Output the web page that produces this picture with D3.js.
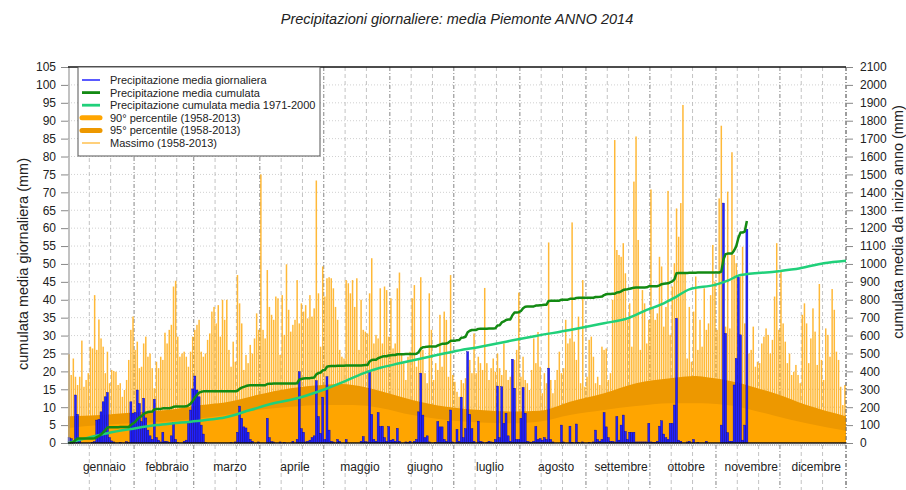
<!DOCTYPE html>
<html>
<head>
<meta charset="utf-8">
<script src="https://cdn.jsdelivr.net/npm/d3@7"></script>
<style>
body { margin: 0; background: #fff; }
text { font-family: "Liberation Sans", Arial, Helvetica, sans-serif; fill: #222; }
</style>
</head>
<body>
<script>
//month labels and lengths
var monthNames = ["gennaio", "febbraio", "marzo", "aprile", "maggio", "giugno",
    "luglio", "agosto", "settembre", "ottobre", "novembre", "dicembre"];
var monthLength = [31, 28, 31, 30, 31, 30, 31, 31, 30, 31, 30, 31];

//daily maximum 1958-2013 (mm), one row per month
var dailyMax = [
    24.8, 19, 23.6, 18.5, 16.2, 18.5, 28.6, 15.7, 17.6, 19.5, 26.9, 26.4, 41.3, 26, 34.5, 29.2, 26.9, 19.5, 25.5, 16.7, 20.4, 20.1, 19.9, 16.2, 16.7, 12.9, 14.8, 17.6, 23.2, 31.6, 35.3,
    26, 28.3, 20.9, 21.3, 27.8, 29.7, 24.1, 25, 20.9, 15.3, 22.7, 20.9, 24.1, 23.2, 30.8, 27.8, 31.6, 33, 43.7, 45.3, 29.7, 24.1, 25, 25.5, 24.1, 21.3, 25.5, 29.7,
    31.6, 33, 34.4, 25.5, 24.1, 25, 28.8, 30.6, 36.7, 38, 33.4, 38.5, 29.7, 40, 34.4, 40, 26, 21.3, 28.3, 22.7, 46.9, 39, 33.4, 20.4, 24.6, 22.3, 27.4, 25, 29.2, 36.2, 31.6,
    75, 31.6, 29.2, 48.3, 38, 35.8, 34.4, 40.9, 40.4, 24.6, 41.3, 30.2, 49.9, 37.2, 31.1, 33, 34.4, 45.5, 33.4, 39, 36.7, 38.5, 34.8, 41.3, 35.3, 37.6, 73.3, 41.8, 26.9, 49.3,
    40.9, 46, 46.3, 46, 43.2, 38, 34.4, 26, 24.1, 23.6, 45.5, 44.6, 41.8, 45.5, 38, 46, 26, 40, 31.6, 31.1, 30.6, 41.8, 51.6, 27.8, 30.2, 29.2, 43.2, 27.8, 43.7, 42.7, 29.7,
    40.4, 26.4, 27.8, 43.2, 47.6, 25, 22.3, 17.6, 24.1, 25.5, 40.4, 44.1, 21.3, 23.6, 46.3, 26, 19.5, 16.7, 41.8, 31.6, 17.6, 22.3, 20.4, 35.8, 21.3, 36.7, 34.4, 18.5, 46.9, 19,
    17.1, 14.3, 12.9, 17.6, 16.7, 18.1, 21.3, 23.2, 19.5, 30.6, 19.5, 24.1, 22.3, 20.4, 43.3, 22.3, 17.6, 20.9, 23.6, 19.9, 25, 20.9, 19, 27.8, 20.4, 17.6, 18.5, 19, 23.2, 26, 42,
    18.5, 24.1, 17.6, 16.7, 14.8, 20.4, 29.2, 22.3, 31, 21.3, 13.9, 19.5, 16.7, 56, 17.6, 13.9, 17.6, 20.4, 25.5, 19.5, 20.9, 34.4, 27.8, 29.2, 61.6, 28.3, 23.2, 35.3, 16.7, 45.5, 15.7,
    18.5, 28.8, 29.7, 24.1, 16.7, 18.5, 16.2, 26.9, 26, 26.4, 17.6, 19.5, 40, 84.6, 53.9, 52.5, 52, 55.8, 47.4, 34.4, 39, 26.9, 73, 85.6, 56.7, 26, 42.7, 39, 27.8, 34.4,
    70.8, 38, 34.4, 36.2, 52, 49.3, 32.5, 38, 70.4, 30.2, 43.7, 50.2, 65.5, 57.6, 67, 94.4, 47.4, 23.6, 38, 22.7, 36.7, 46.5, 26, 34.4, 26.9, 43.2, 31.6, 33.4, 41.3, 55.3, 45.1,
    31.6, 68.3, 88.6, 52, 32.5, 70.2, 32, 81.2, 52.5, 50.2, 40.4, 46.5, 54.8, 33.4, 35.3, 25, 26, 32.5, 21.3, 22.7, 22.3, 27.8, 29.7, 32, 30.2, 25, 28.8, 40.9, 55.8, 31.6,
    48.3, 33.4, 28.3, 22.3, 25, 19, 19.9, 21.8, 19, 16.7, 35.8, 39, 33.4, 22.3, 29.2, 37.6, 31.1, 21.8, 44.4, 23.2, 17.6, 32, 30.2, 24.1, 43, 37.2, 25.5, 23.2, 15.7, 10.6, 16.2
];

//daily mean precipitation 2014 (mm), data up to 15 november
var daily2014 = [
    1.5, 1.2, 0.5, 13.4, 8, 0.8, 0, 0, 0, 0, 0, 0.2, 0.4, 6.4, 6.6, 8.7, 11.5, 12.9, 14.1, 1.5, 0.6, 0.3, 0, 0, 0.2, 0, 0, 0.4, 0.2, 11.5, 8.3,
    8.5, 14.8, 11, 6, 12.5, 7, 3.6, 2, 1, 12.2, 1.5, 0.8, 0.3, 3, 0.5, 0.4, 0.2, 2, 5.7, 1, 0.2, 0, 0, 0.5, 0.8, 5.5, 9.2, 15.1,
    18.7, 14.8, 12.9, 5, 2.5, 0.2, 0, 0, 0, 0, 0, 0, 0, 0, 0, 0, 0, 0.1, 0, 0.3, 3, 10.3, 6.9, 4.5, 4.2, 3, 1, 0.5, 0, 0, 0.3,
    0, 0, 0, 6.9, 1.5, 0.4, 0.3, 0, 0, 0.3, 0, 0.2, 0, 0, 0, 0.5, 0, 1, 19.9, 4, 3, 0.3, 0.5, 0.8, 1.5, 2, 17.4, 7.4, 2.7, 12.8,
    1, 18.5, 3.6, 0.5, 0.3, 0, 1, 0.5, 0, 0, 1, 0, 0, 0, 0, 0, 0, 0.5, 1.8, 0.4, 0.3, 19.9, 8, 1, 0.5, 8.5, 4.6, 4.7, 1.5, 0.5, 4.6,
    0.8, 1, 0.5, 4.1, 0.5, 0, 0, 0.3, 0.2, 0.5, 0, 0.5, 1, 8.7, 19.5, 7.8, 1.5, 2, 0.3, 0, 0, 0.2, 6, 4.5, 4.5, 1, 0.5, 6, 9.2, 0.3,
    0, 3.8, 0.5, 12.8, 1.5, 4, 25.5, 8, 4, 0.5, 0, 6.1, 0.5, 0.3, 0, 0.2, 0.5, 0.3, 0.2, 1, 15.9, 1.5, 15.7, 5.5, 8.3, 2, 0.5, 23.4, 15.3, 1, 1,
    6.9, 15.5, 8.3, 0.5, 0.3, 0.2, 0.5, 4.6, 1, 1.2, 0.8, 1.5, 1, 20.9, 1, 0.3, 0, 0, 0, 5, 0.3, 0, 0, 4.7, 0.2, 0, 5.3, 0.2, 0, 0.3, 0,
    0, 0.2, 0, 0.3, 3.6, 1, 0.5, 1, 8.5, 4.5, 1.5, 0.5, 0.5, 0.3, 7.4, 0.8, 5, 7.8, 3.2, 1, 3, 3, 3, 0.3, 0.3, 0.3, 0.3, 0.3, 0.3, 5.5,
    0.3, 0.2, 0.2, 0.5, 4.7, 6.2, 2.5, 1.5, 1, 5.5, 5.5, 10.6, 34.8, 0.8, 0.5, 0, 0, 0.3, 0.5, 0, 1, 0, 0.2, 0, 0, 0, 0.5, 0, 0, 0, 0,
    0, 0, 5, 67, 30.6, 2.9, 0.5, 0.5, 16.2, 23.6, 46.3, 30.2, 0.8, 5, 59.7
];

//90th and 95th percentile 1958-2013 (mm), read at these days of the year
var pctDay = [-0.5, 15, 30, 46, 62, 73, 88, 104, 119, 128, 138, 146, 161, 177, 193, 208, 221, 235, 251, 266, 282, 294, 300, 315, 323, 331, 346, 364.5];
var pct90 = [4.2, 5.0, 5.5, 6.0, 6.9, 7.8, 9.2, 10.1, 10.6, 10.6, 10.5, 9.8, 7.8, 6.4, 5.7, 5.5, 6.0, 7.8, 9.2, 10.3, 11.1, 11.1, 11.0, 10.0, 8.8, 7.6, 5.5, 3.4];
var pct95 = [7.5, 7.8, 8.5, 9.2, 10.6, 11.3, 13.4, 15.3, 16.2, 16.5, 15.7, 14.5, 12.0, 10.1, 9.2, 8.8, 9.0, 11.5, 13.9, 16.7, 18.1, 18.7, 18.3, 16.7, 15.3, 13.9, 10.6, 7.5];

//cumulated mean precipitation 1971-2000 (mm)
var climDay = [-0.5, 9, 18, 30, 41, 49, 57, 65, 73, 85, 96, 107, 119, 129, 138, 146, 155, 169, 180, 193, 205, 219, 235, 251, 262, 271, 279, 285, 291, 303, 309, 315, 331, 343, 354, 364.5];
var climCum = [0, 30, 55, 80, 100, 110, 119, 130, 142, 184, 222, 250, 296, 343, 389, 420, 445, 482, 510, 538, 566, 598, 631, 669, 696, 743, 780, 818, 858, 883, 907, 938, 957, 976, 1004, 1018];

setChart();

//draw the whole chart
function setChart(){

    //svg frame and plot box
    var width = 906,
        height = 490,
        left = 68,
        right = 846,
        top = 67,
        bottom = 443;

    var svg = d3.select("body")
        .append("svg")
        .attr("width", width)
        .attr("height", height);

    //scales: day of year and the two y axes
    var x = d3.scaleLinear().domain([-0.5, 364.5]).range([left, right]);
    var y = d3.scaleLinear().domain([0, 105]).range([bottom, top]);
    var yR = d3.scaleLinear().domain([0, 2100]).range([bottom, top]);

    //first day index of each month
    var monthStart = [0].concat(Array.from(d3.cumsum(monthLength)));

    //title
    svg.append("text")
        .attr("x", 457)
        .attr("y", 24)
        .attr("text-anchor", "middle")
        .style("font-size", "14.5px")
        .style("font-style", "italic")
        .text("Precipitazioni giornaliere: media Piemonte ANNO 2014");

    //horizontal dotted grid
    svg.selectAll(".hgrid")
        .data(d3.range(5, 105, 5))
        .enter()
        .append("line")
        .attr("class", "hgrid")
        .attr("x1", left).attr("x2", right)
        .attr("y1", function(d){ return y(d); })
        .attr("y2", function(d){ return y(d); })
        .attr("stroke", "#c4c4c4")
        .attr("stroke-width", 0.8)
        .attr("stroke-dasharray", "1,2");

    //dashed lines on the 10th and 20th of each month
    var minor = [];
    monthStart.slice(0, 12).forEach(function(s){ minor.push(s + 9.5, s + 19.5); });
    svg.selectAll(".vgrid")
        .data(minor)
        .enter()
        .append("line")
        .attr("class", "vgrid")
        .attr("x1", function(d){ return x(d); })
        .attr("x2", function(d){ return x(d); })
        .attr("y1", top).attr("y2", 490)
        .attr("stroke", "#b4b4b4")
        .attr("stroke-width", 0.8)
        .attr("stroke-dasharray", "4,3");

    //dash-dot lines between months
    svg.selectAll(".mgrid")
        .data(monthStart.slice(1))
        .enter()
        .append("line")
        .attr("class", "mgrid")
        .attr("x1", function(d){ return x(d - 0.5); })
        .attr("x2", function(d){ return x(d - 0.5); })
        .attr("y1", top).attr("y2", 490)
        .attr("stroke", "#666")
        .attr("stroke-width", 0.8)
        .attr("stroke-dasharray", "4,2,1,2");

    //daily maximum bars
    svg.selectAll(".maxBar")
        .data(dailyMax)
        .enter()
        .append("rect")
        .attr("class", "maxBar")
        .attr("x", function(d, i){ return x(i) - 0.75; })
        .attr("y", function(d){ return y(d); })
        .attr("width", 1.5)
        .attr("height", function(d){ return bottom - y(d); })
        .attr("fill", "#ffa500")
        .attr("fill-opacity", 0.78);

    //percentile areas
    var pctData = pctDay.map(function(d, i){ return {day: d, p90: pct90[i], p95: pct95[i]}; });

    var area95 = d3.area()
        .curve(d3.curveMonotoneX)
        .x(function(d){ return x(d.day); })
        .y0(bottom)
        .y1(function(d){ return y(d.p95); });

    var area90 = d3.area()
        .curve(d3.curveMonotoneX)
        .x(function(d){ return x(d.day); })
        .y0(bottom)
        .y1(function(d){ return y(d.p90); });

    svg.append("path").datum(pctData).attr("d", area95).attr("fill", "#ed9800");
    svg.append("path").datum(pctData).attr("d", area90).attr("fill", "#ffa500");

    //daily mean bars 2014
    svg.selectAll(".dayBar")
        .data(daily2014)
        .enter()
        .append("rect")
        .attr("class", "dayBar")
        .attr("x", function(d, i){ return x(i) - 1; })
        .attr("y", function(d){ return y(d); })
        .attr("width", 2)
        .attr("height", function(d){ return bottom - y(d); })
        .attr("fill", "#2323ff")
        .attr("stroke", "#0000a0")
        .attr("stroke-width", 0.4);

    //cumulated mean 1971-2000
    var climLine = d3.line()
        .curve(d3.curveMonotoneX)
        .x(function(d, i){ return x(climDay[i]); })
        .y(function(d){ return yR(d); });

    svg.append("path")
        .datum(climCum)
        .attr("d", climLine)
        .attr("fill", "none")
        .attr("stroke", "#20d07a")
        .attr("stroke-width", 2.5);

    //cumulated 2014, summed from the daily values
    var cum2014 = Array.from(d3.cumsum(daily2014));
    var cumLine = d3.line()
        .x(function(d, i){ return x(i); })
        .y(function(d){ return yR(d); });

    svg.append("path")
        .datum(cum2014)
        .attr("d", cumLine)
        .attr("fill", "none")
        .attr("stroke", "#138a13")
        .attr("stroke-width", 2.5)
        .attr("stroke-linejoin", "round");

    //frame: left gray axis, bottom and top black borders, right dash-dot
    svg.append("line").attr("x1", left + 1).attr("x2", left + 1).attr("y1", top).attr("y2", bottom)
        .attr("stroke", "#999").attr("stroke-width", 1.2);
    svg.append("line").attr("x1", right).attr("x2", right).attr("y1", top).attr("y2", 490)
        .attr("stroke", "#666").attr("stroke-width", 0.8).attr("stroke-dasharray", "4,2,1,2");
    svg.append("line").attr("x1", left).attr("x2", right).attr("y1", bottom).attr("y2", bottom)
        .attr("stroke", "#111").attr("stroke-width", 1.5);
    svg.append("line").attr("x1", left).attr("x2", right).attr("y1", top).attr("y2", top)
        .attr("stroke", "#111").attr("stroke-width", 1.5);

    //small day ticks under the axis
    svg.selectAll(".dayTick")
        .data(d3.range(0, 365))
        .enter()
        .append("line")
        .attr("class", "dayTick")
        .attr("x1", function(d){ return x(d); })
        .attr("x2", function(d){ return x(d); })
        .attr("y1", bottom).attr("y2", bottom + 3)
        .attr("stroke", "#777")
        .attr("stroke-width", 0.5);

    //left axis
    var leftAxis = d3.axisLeft(y)
        .tickValues(d3.range(0, 106, 5))
        .tickFormat(d3.format("d"))
        .tickSize(7)
        .tickPadding(5);
    var gl = svg.append("g")
        .attr("transform", "translate(" + left + ",0)")
        .call(leftAxis);

    //right axis
    var rightAxis = d3.axisRight(yR)
        .tickValues(d3.range(0, 2101, 100))
        .tickFormat(d3.format("d"))
        .tickSize(7)
        .tickPadding(7);
    var gr = svg.append("g")
        .attr("transform", "translate(" + right + ",0)")
        .call(rightAxis);

    [gl, gr].forEach(function(g){
        g.select(".domain").remove();
        g.selectAll(".tick line").attr("stroke", "#888");
        g.selectAll(".tick text")
            .style("font-size", "12px")
            .style("font-family", "'Liberation Sans', Arial, sans-serif")
            .attr("fill", "#222");
    });

    //axis titles
    svg.append("text")
        .attr("transform", "translate(28,264) rotate(-90)")
        .attr("text-anchor", "middle")
        .style("font-size", "14.5px")
        .text("cumulata media giornaliera (mm)");

    svg.append("text")
        .attr("transform", "translate(903,222) rotate(-90)")
        .attr("text-anchor", "middle")
        .style("font-size", "14.5px")
        .text("cumulata media da inizio anno (mm)");

    //month labels
    svg.selectAll(".month")
        .data(monthNames)
        .enter()
        .append("text")
        .attr("class", "month")
        .attr("x", function(d, i){ return x(monthStart[i] + monthLength[i] / 2 + 1); })
        .attr("y", 471)
        .attr("text-anchor", "middle")
        .style("font-size", "12px")
        .text(function(d){ return d; });

    //legend
    var legendItems = [
        {label: "Precipitazione media giornaliera", color: "#2323ff", w: 1.5},
        {label: "Precipitazione media cumulata", color: "#138a13", w: 2.8},
        {label: "Precipitazione cumulata media 1971-2000", color: "#20d07a", w: 2.8},
        {label: "90\u00b0 percentile (1958-2013)", color: "#ffa500", w: 5},
        {label: "95\u00b0 percentile (1958-2013)", color: "#ed9800", w: 5},
        {label: "Massimo (1958-2013)", color: "#ffb733", w: 1.3}
    ];

    var legend = svg.append("g");
    legend.append("rect")
        .attr("x", 78).attr("y", top)
        .attr("width", 242).attr("height", 89)
        .attr("fill", "#fff")
        .attr("stroke", "#555")
        .attr("stroke-width", 1);

    var rows = legend.selectAll(".item")
        .data(legendItems)
        .enter()
        .append("g")
        .attr("class", "item")
        .attr("transform", function(d, i){ return "translate(0," + (80 + i * 12.6) + ")"; });

    rows.append("line")
        .attr("x1", 82).attr("x2", 100)
        .attr("stroke", function(d){ return d.color; })
        .attr("stroke-width", function(d){ return d.w; })
        .attr("stroke-linecap", function(d){ return d.w > 4 ? "round" : "butt"; });

    rows.append("text")
        .attr("x", 110)
        .attr("y", 4)
        .style("font-size", "11px")
        .text(function(d){ return d.label; });
}
</script>
</body>
</html>
